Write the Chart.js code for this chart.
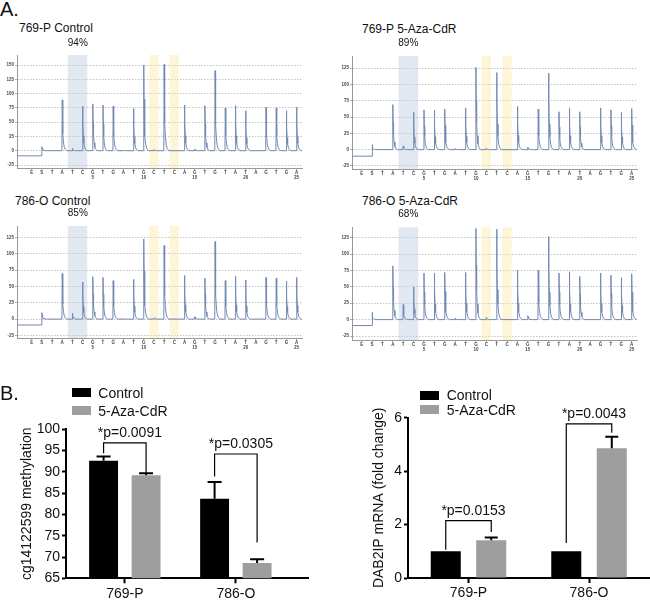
<!DOCTYPE html>
<html>
<head>
<meta charset="utf-8">
<script src="https://cdn.jsdelivr.net/npm/chart.js@4.4.0/dist/chart.umd.min.js"></script>
<style>
body { margin: 0; background: #fff; }
#page { position: relative; width: 650px; height: 600px; overflow: hidden; font-family: "Liberation Sans", Arial, sans-serif; color: #111; }
canvas { position: absolute; }
.t { position: absolute; white-space: nowrap; line-height: 1; }
.box { position: absolute; }
</style>
</head>
<body>
<div id="page">
  <canvas id="p1" width="310" height="137" style="left:0;top:45px"></canvas>
  <canvas id="p2" width="310" height="137" style="left:335px;top:45px"></canvas>
  <canvas id="p3" width="310" height="137" style="left:0;top:215px"></canvas>
  <canvas id="p4" width="310" height="137" style="left:335px;top:215px"></canvas>
  <canvas id="methyl" width="320" height="200" style="left:0;top:400px"></canvas>
  <canvas id="fold" width="320" height="220" style="left:330px;top:380px"></canvas>
</div>
<script>
// pyrosequencing dispensation order
const dispensations = ['E','S','T','A','T','C','G','T','G','A','T','G','C','T','C','A','G','T','G','T','A','T','A','G','T','G','A']
const dispNumbers = ['','','','','','','5','','','','','10','','','','','15','','','','','20','','','','','25']

// peak heights (one per dispensation)
const ctrl769Peaks = [0, 7, 0, 89, 4, 78, 82, 80, 78, 1, 74, 150, 2, 151, 0, 80, 3, 79, 140, 75, 79, 70, 0, 76, 75, 70, 76]
const aza769Peaks  = [0, 7.6, 0, 69, 5.6, 57, 61, 60, 62, 1.5, 64, 126, 2, 118, 0, 66, 4, 62, 117, 58, 64, 58, 0, 64, 61, 57, 63]
const ctrl786Peaks = [0, 10, 0, 70, 9, 57, 65, 64, 59, 0.5, 61, 123, 2, 113, 0, 67, 4, 63, 119, 59, 66, 60, 0, 64, 63, 58, 64]
const aza786Peaks  = [0, 11, 0, 82, 23, 50, 71, 71, 72, 2, 72, 139, 3, 138, 0, 75, 6, 75, 127, 71, 73, 66, 0, 71, 68, 64, 70]
const startLevels = [-9, -10, -9, -9]
const panelTitles = ['769-P Control', '769-P 5-Aza-CdR', '786-O Control', '786-O 5-Aza-CdR']
const methylPercent = ['94%', '89%', '85%', '68%']
const ticks769Ctrl = [-25, 0, 25, 50, 75, 100, 125, 150]
const ticksPyro = [-25, 0, 25, 50, 75, 100, 125]
const cpgBand = [3.55, 5.45]
const controlBands = [[11.55, 12.45], [13.55, 14.45]]

// B panels
const cellLines = ['769-P', '786-O']
const seriesNames = ['Control', '5-Aza-CdR']
const methylCtrl = [92.6, 83.7]
const methylCtrlSem = [1.0, 3.9]
const methylAza = [89.2, 68.6]
const methylAzaSem = [0.5, 0.9]
const methylTicks = [65, 70, 75, 80, 85, 90, 95, 100]
const methylP = ['*p=0.0091', '*p=0.0305']
const methylBracketTop = [96.8, 94.2]
const methylBracketLeft = [94.4, 88.9]
const methylBracketRight = [89.8, 73.4]

const foldCtrl = [1, 1]
const foldCtrlSem = [0, 0]
const foldAza = [1.41, 4.86]
const foldAzaSem = [0.11, 0.43]
const foldTicks = [0, 2, 4, 6]
const foldP = ['*p=0.0153', '*p=0.0043']
const foldBracketTop = [2.15, 5.77]
const foldBracketLeft = [1.06, 1.31]
const foldBracketRight = [1.72, 5.44]

const FONT = '"Liberation Sans", Arial, sans-serif'
Chart.defaults.font.family = FONT
Chart.defaults.color = '#111'

// shape of one pyrogram peak: [offset in dispensations, fraction of height]
const PEAK_SHAPE = [[-0.03, 0], [0, 1], [0.03, 0.6], [0.07, 0.33], [0.12, 0.17], [0.2, 0.07], [0.3, 0.025], [0.45, 0]]

function buildTrace(peaks, start, xmin, xmax) {
    const pts = [{x: xmin, y: start}]
    peaks.forEach((h, i) => {
        if (i === 0) return
        if (i === 1) pts.push({x: 1, y: start})
        if (h <= 0) return
        PEAK_SHAPE.forEach(([dx, f]) => {
            if (i === 1 && dx < 0) return
            pts.push({x: i + dx, y: h * f})
        })
    })
    pts.push({x: xmax, y: 0})
    return pts
}

const bandPlugin = {
    id: 'bands',
    beforeDatasetsDraw(chart) {
        const {ctx, chartArea: a, scales: {x}} = chart
        const fillBand = (b) => {
            const x0 = x.getPixelForValue(b[0]), x1 = x.getPixelForValue(b[1])
            ctx.fillRect(x0, a.top, x1 - x0, a.bottom - a.top)
        }
        ctx.save()
        ctx.fillStyle = 'rgba(190,203,225,0.45)'
        fillBand(cpgBand)
        ctx.fillStyle = 'rgba(250,232,160,0.42)'
        controlBands.forEach(fillBand)
        ctx.restore()
    }
}

function pyro(id, peaks, start, p) {
    const tickFont = {size: 4.5, weight: 'bold', lineHeight: 1.15}
    new Chart(document.getElementById(id), {
        type: 'line',
        data: {
            datasets: [{
                data: buildTrace(peaks, start, p.xmin, p.xmax),
                borderColor: '#7389b1',
                borderWidth: 1,
                pointRadius: 0,
                tension: 0,
                fill: false
            }]
        },
        options: {
            responsive: false,
            animation: false,
            devicePixelRatio: 1,
            layout: {padding: {top: p.padTop, right: 8, left: 0, bottom: 0}},
            plugins: {legend: {display: false}, tooltip: {enabled: false}},
            scales: {
                x: {
                    type: 'linear', min: p.xmin, max: p.xmax,
                    afterFit: s => { s.height = p.xHeight },
                    afterBuildTicks: s => { s.ticks = dispensations.map((d, i) => ({value: i})) },
                    grid: {display: true, drawOnChartArea: false, tickLength: 2, color: '#999', lineWidth: 0.8},
                    border: {display: true, color: '#999', width: 1},
                    ticks: {
                        autoSkip: false, maxRotation: 0, minRotation: 0, padding: 0,
                        font: tickFont, color: '#444',
                        callback: v => [dispensations[v], dispNumbers[v]]
                    }
                },
                y: {
                    min: p.ymin, max: p.ymax,
                    afterFit: s => { s.width = 17 },
                    afterBuildTicks: s => { s.ticks = p.ticks.map(v => ({value: v})) },
                    grid: {color: '#b5b5b5', lineWidth: 0.8, tickLength: 2, tickColor: '#999'},
                    border: {display: true, color: '#999', width: 1, dash: [1.5, 1.5]},
                    ticks: {padding: 1, font: tickFont, color: '#444'}
                }
            }
        },
        plugins: [bandPlugin]
    })
}

pyro('p1', ctrl769Peaks, startLevels[0], {xmin: -1.44, xmax: 26.53, ymin: -30.25, ymax: 167.5, ticks: ticks769Ctrl, padTop: 10, xHeight: 14})
pyro('p2', aza769Peaks, startLevels[1], {xmin: -0.93, xmax: 26.51, ymin: -29.6, ymax: 143.4, ticks: ticksPyro, padTop: 11, xHeight: 13})
pyro('p3', ctrl786Peaks, startLevels[2], {xmin: -1.44, xmax: 26.53, ymin: -29, ymax: 142.9, ticks: ticksPyro, padTop: 11, xHeight: 14})
pyro('p4', aza786Peaks, startLevels[3], {xmin: -0.93, xmax: 26.51, ymin: -31.1, ymax: 140.9, ticks: ticksPyro, padTop: 12.3, xHeight: 12})

// error bars + significance brackets
function barExtras(cfg) {
    return {
        id: 'barExtras',
        afterDatasetsDraw(chart) {
            const {ctx, scales: {y}} = chart
            ctx.save()
            ctx.strokeStyle = '#000'
            ctx.lineWidth = 2
            cfg.means.forEach((means, di) => {
                const meta = chart.getDatasetMeta(di)
                cfg.sems[di].forEach((s, i) => {
                    if (!s) return
                    const bar = meta.data[i]
                    const yTop = y.getPixelForValue(means[i] + s)
                    ctx.beginPath()
                    ctx.moveTo(bar.x, bar.y)
                    ctx.lineTo(bar.x, yTop)
                    ctx.moveTo(bar.x - cfg.cap / 2, yTop)
                    ctx.lineTo(bar.x + cfg.cap / 2, yTop)
                    ctx.stroke()
                })
            })
            ctx.lineWidth = 1.2
            ctx.font = '14px ' + FONT
            ctx.fillStyle = '#111'
            ctx.textAlign = 'center'
            ctx.textBaseline = 'alphabetic'
            cfg.labels.forEach((txt, i) => {
                const xl = chart.getDatasetMeta(0).data[i].x
                const xr = chart.getDatasetMeta(1).data[i].x
                const yt = y.getPixelForValue(cfg.top[i])
                ctx.beginPath()
                ctx.moveTo(xl, y.getPixelForValue(cfg.left[i]))
                ctx.lineTo(xl, yt)
                ctx.lineTo(xr, yt)
                ctx.lineTo(xr, y.getPixelForValue(cfg.right[i]))
                ctx.stroke()
                ctx.fillText(txt, (xl + xr) / 2 + 5, yt - 6)
            })
            ctx.restore()
        }
    }
}

const seriesColors = ['#000000', '#9e9e9e']

function barChart(id, p) {
    new Chart(document.getElementById(id), {
        type: 'bar',
        data: {
            datasets: [0, 1].map(d => ({
                label: seriesNames[d],
                data: p.means[d].map((v, i) => ({x: i, y: v})),
                backgroundColor: seriesColors[d],
                borderWidth: 0,
                categoryPercentage: p.catPct,
                barPercentage: p.barPct
            }))
        },
        options: {
            responsive: false,
            animation: false,
            devicePixelRatio: 1,
            layout: {padding: {top: p.padTop, right: p.padRight, left: 0, bottom: 0}},
            plugins: {legend: {display: false}, tooltip: {enabled: false}},
            scales: {
                x: {
                    type: 'linear', min: p.xmin, max: p.xmax, offset: false, z: 1,
                    afterFit: s => { s.height = p.xHeight },
                    afterBuildTicks: s => { s.ticks = cellLines.map((c, i) => ({value: i})) },
                    grid: {display: true, drawOnChartArea: false, offset: false, tickLength: 5, tickWidth: 2, tickColor: '#000'},
                    border: {display: true, color: '#000', width: 2},
                    ticks: {padding: 2, font: {size: 14}, color: '#111', callback: v => cellLines[v]}
                },
                y: {
                    min: p.ymin, max: p.ymax,
                    afterFit: s => { s.width = p.yWidth },
                    afterBuildTicks: s => { s.ticks = p.ticks.map(v => ({value: v})) },
                    grid: {display: true, drawOnChartArea: false, tickLength: 4, tickWidth: 2, tickColor: '#000'},
                    border: {display: true, color: '#000', width: 2},
                    ticks: {padding: 2, font: {size: 14}, color: '#111'},
                    title: {display: true, text: p.title, font: {size: 14}, color: '#111', padding: {top: p.titlePad, bottom: 0}}
                }
            }
        },
        plugins: [barExtras(p)]
    })
}

barChart('methyl', {
    means: [methylCtrl, methylAza], sems: [methylCtrlSem, methylAzaSem],
    labels: methylP, top: methylBracketTop, left: methylBracketLeft, right: methylBracketRight,
    ticks: methylTicks, ymin: 65, ymax: 100, xmin: -0.53, xmax: 1.65,
    catPct: 0.766, barPct: 0.68, cap: 14,
    padTop: 29.3, padRight: 12, xHeight: 21.7, yWidth: 66,
    title: 'cg14122599 methylation', titlePad: 18.6
})

barChart('fold', {
    means: [foldCtrl, foldAza], sems: [foldCtrlSem, foldAzaSem],
    labels: foldP, top: foldBracketTop, left: foldBracketLeft, right: foldBracketRight,
    ticks: foldTicks, ymin: 0, ymax: 6, xmin: -0.502, xmax: 1.506,
    catPct: 0.755, barPct: 0.66, cap: 13,
    padTop: 37.7, padRight: 0, xHeight: 22, yWidth: 78,
    title: 'DAB2IP mRNA (fold change)', titlePad: 40.3
})

// text overlays: panel letters, pyrogram titles, percentages, legends
const page = document.getElementById('page')
function addText(txt, left, top, size, center) {
    const el = document.createElement('div')
    el.className = 't'
    el.textContent = txt
    el.style.left = left + 'px'
    el.style.top = top + 'px'
    el.style.fontSize = size + 'px'
    if (center) el.style.transform = 'translateX(-50%)'
    page.appendChild(el)
}
function addBox(color, left, top, w, h) {
    const el = document.createElement('div')
    el.className = 'box'
    el.style.cssText = `left:${left}px;top:${top}px;width:${w}px;height:${h}px;background:${color}`
    page.appendChild(el)
}

addText('A.', 0, -1, 20)
addText('B.', 0, 382.7, 20)

const titlePos = [[19, 22.4], [362, 23.1], [15, 194.9], [362, 195.1]]
const pctPos = [[77.8, 37.8], [408.3, 38.4], [77.8, 208.4], [408.3, 209.1]]
panelTitles.forEach((t, i) => addText(t, titlePos[i][0], titlePos[i][1], 12))
methylPercent.forEach((t, i) => addText(t, pctPos[i][0], pctPos[i][1], 10, true))

// legends
const legendPos = [
    {box: [72.3, 18.4], rows: [388.3, 406], text: 98.3, textTop: [385.9, 403.5]},
    {box: [420, 19.3], rows: [390.7, 405], text: 446.7, textTop: [387.9, 403.2]}
]
legendPos.forEach(l => {
    seriesNames.forEach((name, i) => {
        addBox(seriesColors[i], l.box[0], l.rows[i], l.box[1], 9)
        addText(name, l.text, l.textTop[i], 14)
    })
})
</script>
</body>
</html>
